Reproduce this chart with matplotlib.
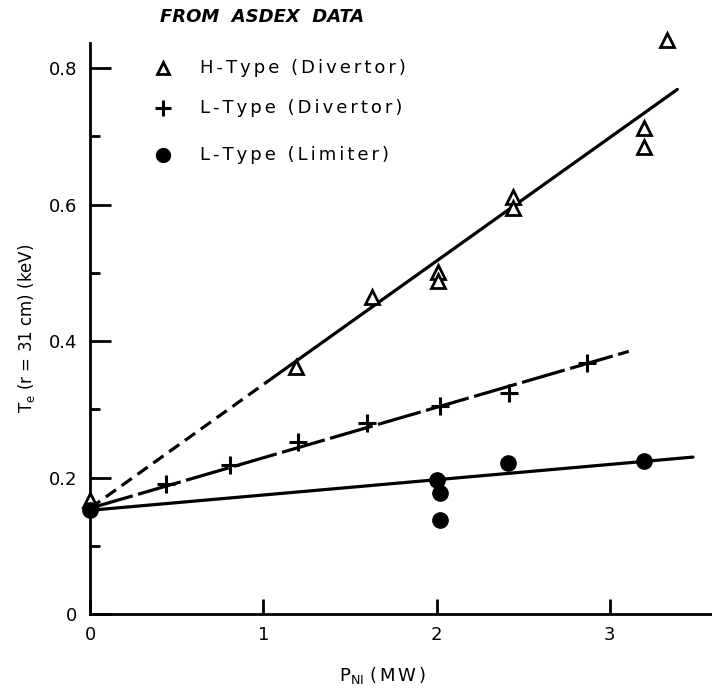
import matplotlib
matplotlib.use("Agg")
import matplotlib.pyplot as plt

plt.rcParams['font.family'] = ['DejaVu Sans']
plt.rcParams['lines.scale_dashes'] = False

# ---- data ----
h_x = [0.0, 1.19, 1.63, 2.01, 2.01, 2.44, 2.44, 3.20, 3.20, 3.33]
h_y = [0.167, 0.362, 0.464, 0.501, 0.488, 0.611, 0.595, 0.712, 0.684, 0.841]

ld_x = [0.44, 0.81, 1.20, 1.60, 2.02, 2.42, 2.87]
ld_y = [0.190, 0.218, 0.252, 0.280, 0.305, 0.324, 0.368]

ll_x = [0.0, 2.0, 2.02, 2.02, 2.41, 3.20]
ll_y = [0.152, 0.196, 0.177, 0.138, 0.221, 0.224]

# fit lines
h_dash_x = [0.0, 1.02]
h_dash_y = [0.155, 0.340]
h_fit_x = [1.02, 3.39]
h_fit_y = [0.340, 0.769]
ld_fit_x = [0.0, 3.11]
ld_fit_y = [0.155, 0.385]
ll_fit_x = [0.0, 3.48]
ll_fit_y = [0.152, 0.230]

xticks = [0, 1, 2, 3]
xticklabels = ['0', '1', '2', '3']
yticks = [0, 0.2, 0.4, 0.6, 0.8]
yticklabels = ['0', '0.2', '0.4', '0.6', '0.8']
yminor = [0.1, 0.3, 0.5, 0.7]

legend_labels = ['H-Type (Divertor)', 'L-Type (Divertor)', 'L-Type (Limiter)']


def spaced(s, sep='\u2006'):
    return sep.join(s)


# ---- figure ----
fig = plt.figure(figsize=(7.12, 6.98), dpi=100)
ax = fig.add_axes([90/712, 84/698, 622/712, 571/698])
ax.set_xlim(0, 3.59)
ax.set_ylim(0, 0.837)

lw = 2.3
ax.plot(h_dash_x, h_dash_y, color='black', lw=lw, linestyle=(0, (9, 5)), clip_on=False)
ax.plot(h_fit_x, h_fit_y, color='black', lw=lw, solid_capstyle='round')
ax.plot(ld_fit_x, ld_fit_y, color='black', lw=lw, linestyle=(0, (32, 4)))
ax.plot(ll_fit_x, ll_fit_y, color='black', lw=lw, solid_capstyle='round')

ax.plot(h_x, h_y, linestyle='none', marker='^', markersize=10, markerfacecolor='white',
        markeredgecolor='black', markeredgewidth=2, clip_on=False, zorder=5)
ax.plot(ld_x, ld_y, linestyle='none', marker='+', markersize=13, markeredgewidth=2.2,
        color='black', clip_on=False, zorder=5)
ax.plot(ll_x, ll_y, linestyle='none', marker='o', markersize=11, color='black',
        clip_on=False, zorder=6)

# spines
for s in ['top', 'right']:
    ax.spines[s].set_visible(False)
ax.spines['left'].set_linewidth(2)
ax.spines['bottom'].set_linewidth(2)

ax.set_xticks(xticks)
ax.set_xticklabels(xticklabels)
ax.set_yticks(yticks)
ax.set_yticklabels(yticklabels)
ax.set_yticks(yminor, minor=True)
ax.tick_params(axis='x', direction='in', length=11, width=2, pad=9, labelsize=13)
ax.tick_params(axis='y', direction='in', length=15, width=2, pad=9, labelsize=13)
ax.tick_params(axis='y', which='minor', direction='in', length=7, width=2)

ax.set_ylabel(r'T$_\mathrm{e}$ (r = 31 cm) (keV)', fontsize=12)
ax.yaxis.set_label_coords(-0.085, 0.5)
ax.set_xlabel(r'P$_\mathrm{NI}$' + ' ' + spaced('(MW)'), fontsize=13)
ax.xaxis.set_label_coords(0.47, -0.09)

# title text
fig.text(160/712, 1 - 8/698, 'FROM  ASDEX  DATA', fontsize=13, fontweight='bold',
         fontstyle='italic', va='top', ha='left')

# legend (manual)
leg_y = [0.956, 0.886, 0.804]
ax.plot([0.117], [leg_y[0]], transform=ax.transAxes, marker='^', markersize=9,
        markerfacecolor='white', markeredgecolor='black', markeredgewidth=2, clip_on=False)
ax.plot([0.117], [leg_y[1]], transform=ax.transAxes, marker='+', markersize=12,
        markeredgewidth=2.2, color='black', clip_on=False)
ax.plot([0.117], [leg_y[2]], transform=ax.transAxes, marker='o', markersize=10,
        color='black', clip_on=False)
for yy, lab in zip(leg_y, legend_labels):
    ax.text(0.177, yy, spaced(lab), transform=ax.transAxes, fontsize=13, va='center', ha='left')

fig.savefig('out.png', dpi=100)
